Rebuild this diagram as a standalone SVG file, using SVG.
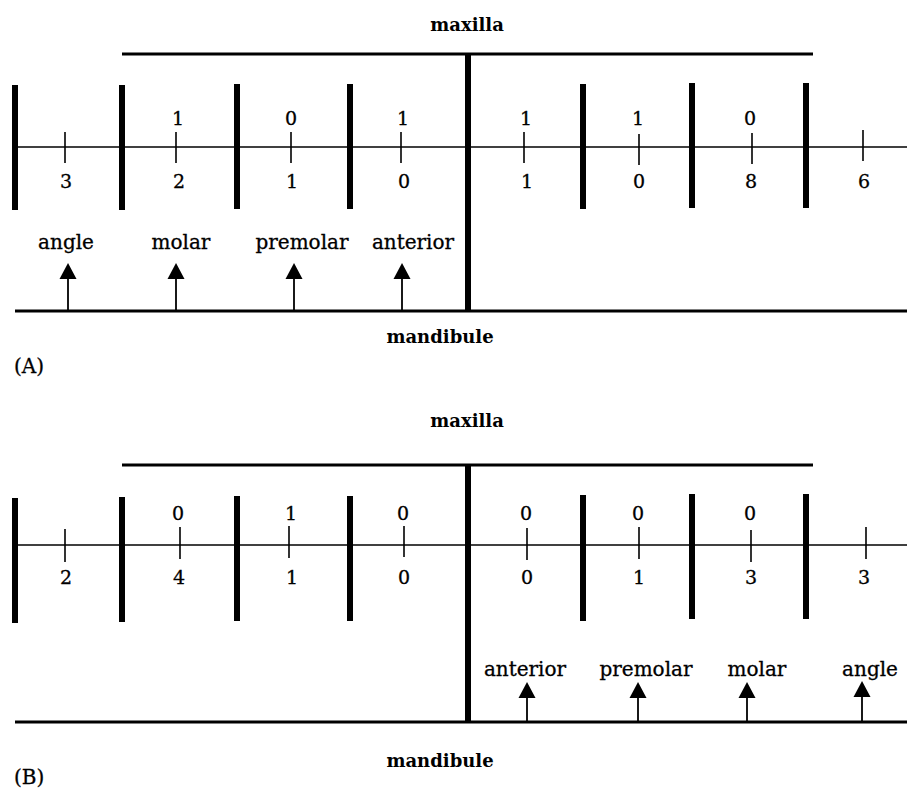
<svg xmlns="http://www.w3.org/2000/svg" width="907" height="805" viewBox="0 0 907 805">
  <defs>
    <style>
      .jaw { stroke: #000; stroke-width: 3; fill: none; }
      .mid { stroke: #000; stroke-width: 6; fill: none; }
      .bar { stroke: #000; stroke-width: 6; fill: none; }
      .axis { stroke: #000; stroke-width: 1.6; fill: none; }
      .tick { stroke: #000; stroke-width: 1.6; fill: none; }
      .shaft { stroke: #000; stroke-width: 1.8; fill: none; }
      .head { fill: #000; }
      text { font-family: "DejaVu Serif", "Liberation Serif", serif; fill: #000; stroke: #000; stroke-width: 0.3; }
      .num { font-size: 19px; text-anchor: middle; }
      .lbl { font-size: 20px; text-anchor: middle; }
      .ttl { font-size: 18px; font-weight: bold; text-anchor: middle; stroke-width: 0; }
      .pan { font-size: 20px; }
    </style>
  </defs>

  <!-- Panel A -->
  <g id="panelA">
    <text class="ttl" x="467" y="31">maxilla</text>
    <line class="jaw" x1="122" y1="54" x2="813" y2="54"/>
    <line class="axis" x1="15" y1="147" x2="907" y2="147"/>
    <line class="jaw" x1="15" y1="311" x2="907" y2="311"/>
    <line class="mid" x1="468" y1="54" x2="468" y2="311"/>
    <g id="barsA">
      <line class="bar" x1="15" y1="85" x2="15" y2="210"/>
      <line class="bar" x1="122" y1="85" x2="122" y2="210"/>
      <line class="bar" x1="237" y1="84" x2="237" y2="209"/>
      <line class="bar" x1="350" y1="84" x2="350" y2="209"/>
      <line class="bar" x1="583" y1="84" x2="583" y2="209"/>
      <line class="bar" x1="692" y1="83" x2="692" y2="208"/>
      <line class="bar" x1="806" y1="83" x2="806" y2="208"/>
    </g>
    <g id="ticksA">
      <line class="tick" x1="65" y1="132" x2="65" y2="163"/>
      <line class="tick" x1="176" y1="132" x2="176" y2="163"/>
      <line class="tick" x1="291" y1="132" x2="291" y2="163"/>
      <line class="tick" x1="401" y1="132" x2="401" y2="163"/>
      <line class="tick" x1="524" y1="132" x2="524" y2="163"/>
      <line class="tick" x1="639" y1="134" x2="639" y2="165"/>
      <line class="tick" x1="752" y1="133" x2="752" y2="164"/>
      <line class="tick" x1="863" y1="130" x2="863" y2="161"/>
    </g>
    <g id="upperA">
      <text class="num" x="178" y="125">1</text>
      <text class="num" x="291" y="125">0</text>
      <text class="num" x="403" y="125">1</text>
      <text class="num" x="526" y="125">1</text>
      <text class="num" x="638" y="125">1</text>
      <text class="num" x="750" y="125">0</text>
    </g>
    <g id="lowerA">
      <text class="num" x="66" y="188">3</text>
      <text class="num" x="179" y="188">2</text>
      <text class="num" x="292" y="188">1</text>
      <text class="num" x="404" y="188">0</text>
      <text class="num" x="527" y="188">1</text>
      <text class="num" x="639" y="188">0</text>
      <text class="num" x="751" y="188">8</text>
      <text class="num" x="864" y="188">6</text>
    </g>
    <g id="arrowsA">
      <g id="a-angle">
        <text class="lbl" x="66" y="249">angle</text>
        <line class="shaft" x1="68" y1="311" x2="68" y2="276"/>
        <polygon class="head" points="68,263 59.5,279 76.5,279"/>
      </g>
      <g id="a-molar">
        <text class="lbl" x="181" y="249">molar</text>
        <line class="shaft" x1="176" y1="311" x2="176" y2="276"/>
        <polygon class="head" points="176,263 167.5,279 184.5,279"/>
      </g>
      <g id="a-premolar">
        <text class="lbl" x="302" y="249">premolar</text>
        <line class="shaft" x1="294" y1="311" x2="294" y2="276"/>
        <polygon class="head" points="294,263 285.5,279 302.5,279"/>
      </g>
      <g id="a-anterior">
        <text class="lbl" x="413" y="249">anterior</text>
        <line class="shaft" x1="402" y1="311" x2="402" y2="276"/>
        <polygon class="head" points="402,263 393.5,279 410.5,279"/>
      </g>
    </g>
    <text class="ttl" x="440" y="343">mandibule</text>
    <text class="pan" x="14" y="373">(A)</text>
  </g>

  <!-- Panel B -->
  <g id="panelB">
    <text class="ttl" x="467" y="427">maxilla</text>
    <line class="jaw" x1="122" y1="465" x2="813" y2="465"/>
    <line class="axis" x1="15" y1="545" x2="907" y2="545"/>
    <line class="jaw" x1="15" y1="722" x2="907" y2="722"/>
    <line class="mid" x1="468" y1="465" x2="468" y2="722"/>
    <g id="barsB">
      <line class="bar" x1="15" y1="498" x2="15" y2="623"/>
      <line class="bar" x1="122" y1="497" x2="122" y2="622"/>
      <line class="bar" x1="237" y1="496" x2="237" y2="621"/>
      <line class="bar" x1="350" y1="496" x2="350" y2="621"/>
      <line class="bar" x1="583" y1="495" x2="583" y2="621"/>
      <line class="bar" x1="692" y1="494" x2="692" y2="619"/>
      <line class="bar" x1="806" y1="494" x2="806" y2="619"/>
    </g>
    <g id="ticksB">
      <line class="tick" x1="65" y1="529" x2="65" y2="562"/>
      <line class="tick" x1="180" y1="527" x2="180" y2="559"/>
      <line class="tick" x1="289" y1="526" x2="289" y2="558"/>
      <line class="tick" x1="404" y1="526" x2="404" y2="557"/>
      <line class="tick" x1="527" y1="528" x2="527" y2="560"/>
      <line class="tick" x1="639" y1="527" x2="639" y2="559"/>
      <line class="tick" x1="751" y1="530" x2="751" y2="562"/>
      <line class="tick" x1="866" y1="527" x2="866" y2="559"/>
    </g>
    <g id="upperB">
      <text class="num" x="178" y="520">0</text>
      <text class="num" x="291" y="520">1</text>
      <text class="num" x="403" y="520">0</text>
      <text class="num" x="526" y="520">0</text>
      <text class="num" x="638" y="520">0</text>
      <text class="num" x="750" y="520">0</text>
    </g>
    <g id="lowerB">
      <text class="num" x="66" y="584">2</text>
      <text class="num" x="179" y="584">4</text>
      <text class="num" x="292" y="584">1</text>
      <text class="num" x="404" y="584">0</text>
      <text class="num" x="527" y="584">0</text>
      <text class="num" x="639" y="584">1</text>
      <text class="num" x="751" y="584">3</text>
      <text class="num" x="864" y="584">3</text>
    </g>
    <g id="arrowsB">
      <g id="b-anterior">
        <text class="lbl" x="525" y="676">anterior</text>
        <line class="shaft" x1="527" y1="722" x2="527" y2="695"/>
        <polygon class="head" points="527,682 518.5,698 535.5,698"/>
      </g>
      <g id="b-premolar">
        <text class="lbl" x="646" y="676">premolar</text>
        <line class="shaft" x1="638" y1="722" x2="638" y2="695"/>
        <polygon class="head" points="638,682 629.5,698 646.5,698"/>
      </g>
      <g id="b-molar">
        <text class="lbl" x="757" y="676">molar</text>
        <line class="shaft" x1="747" y1="722" x2="747" y2="695"/>
        <polygon class="head" points="747,682 738.5,698 755.5,698"/>
      </g>
      <g id="b-angle">
        <text class="lbl" x="870" y="676">angle</text>
        <line class="shaft" x1="862" y1="722" x2="862" y2="695"/>
        <polygon class="head" points="862,681 853.5,697 870.5,697"/>
      </g>
    </g>
    <text class="ttl" x="440" y="767">mandibule</text>
    <text class="pan" x="14" y="784">(B)</text>
  </g>
</svg>
